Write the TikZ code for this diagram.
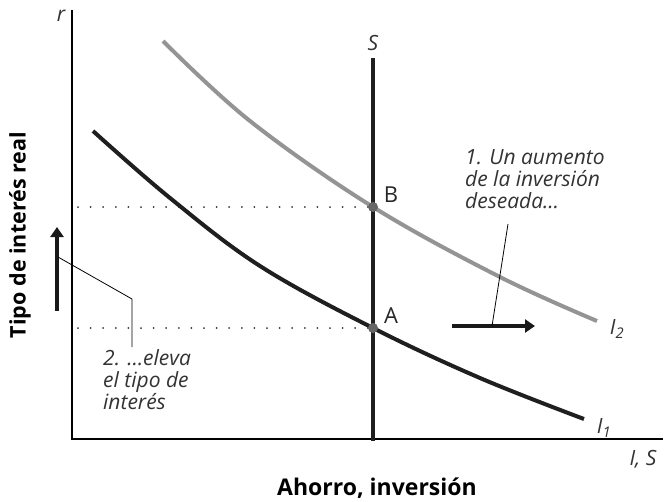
\documentclass[tikz,border=0pt]{standalone}
\usepackage{fontspec}
\setmainfont{Open Sans}
\usetikzlibrary{arrows.meta}
\begin{document}
\begin{tikzpicture}[x=1pt,y=-1pt,
  axis/.style={line width=1.2pt},
  curveblack/.style={line width=4pt,black!88},
  curvegray/.style={line width=4pt,black!42},
  dotline/.style={line width=2pt,line cap=round,dash pattern=on 0pt off 12.6pt,black!80},
  leader/.style={line width=0.8pt},
  bigarrow/.style={line width=4.5pt,black!90,-{Triangle[length=10pt,width=13pt]}},
  eqpt/.style={circle,fill=black!60,inner sep=0pt,minimum size=10pt},
  lbl/.style={font=\fontsize{21}{22}\selectfont\itshape,text=black!80},
  axlbl/.style={font=\fontsize{23}{24}\selectfont\bfseries},
  ylbl/.style={font=\fontsize{21.5}{24}\selectfont\bfseries},
  ptlbl/.style={font=\fontsize{22}{24}\selectfont,text=black!85}
]
\useasboundingbox (0,0) rectangle (666,501);
% axes
\coordinate (O) at (72,439);
\coordinate (Ytop) at (72,10);
\coordinate (Xend) at (663,439);
\draw[axis] (Ytop) -- (O) -- (Xend);
\node[lbl,anchor=center] (rlab) at (61,16) {r};
\node[lbl,anchor=center] (ISlab) at (643,459) {I, S};
\node[axlbl] (xtitle) at (377,488) {Ahorro, inversión};
\node[ylbl,rotate=90] (ytitle) at (20,235) {Tipo de interés real};
% dotted lines
\coordinate (Bd) at (78,207);
\coordinate (Ad) at (78,328);
\coordinate (B) at (373,207);
\coordinate (A) at (373,328);
\draw[dotline] (Bd) -- (B);
\draw[dotline] (Ad) -- (A);
% curves
\draw[curveblack] plot[smooth,tension=0.6] coordinates {(93,131) (170,198) (260,266) (373,328) (480,378) (584,419)};
\draw[curvegray] plot[smooth,tension=0.6] coordinates {(163,41) (250,121) (373,207) (500,277) (597,321)};
% S line
\coordinate (Stop) at (373,58);
\coordinate (Sbot) at (373,441);
\draw[line width=4pt,black!88] (Stop) -- (Sbot);
\node[lbl] (Slab) at (373,43) {S};
% points
\node[eqpt] (Bpt) at (B) {};
\node[eqpt] (Apt) at (A) {};
\node[ptlbl] (Blab) at (391,195) {B};
\node[ptlbl] (Alab) at (391,316) {A};
% curve labels
\node[lbl] (I1lab) at (604,428) {I\textsubscript{1}};
\node[lbl] (I2lab) at (617,329) {I\textsubscript{2}};
% arrows
\coordinate (up0) at (57,311);
\coordinate (up1) at (57,227);
\draw[bigarrow] (up0) -- (up1);
\coordinate (rt0) at (452,326);
\coordinate (rt1) at (535,326);
\draw[bigarrow] (rt0) -- (rt1);
% annotations
\node[lbl,anchor=north west,align=left,inner sep=0pt] (note1) at (465,149) {1. Un aumento\\de la inversión\\deseada…};
\coordinate (n1a) at (508,224);
\coordinate (n1b) at (492,326);
\draw[leader] (n1a) -- (n1b);
\node[lbl,anchor=north west,align=left,inner sep=0pt] (note2) at (103,349) {2. …eleva\\el tipo de\\interés};
\coordinate (n2a) at (58,257);
\coordinate (n2b) at (132,299);
\coordinate (n2c) at (132,347);
\draw[leader] (n2a) -- (n2b) -- (n2c);
\end{tikzpicture}
\end{document}
